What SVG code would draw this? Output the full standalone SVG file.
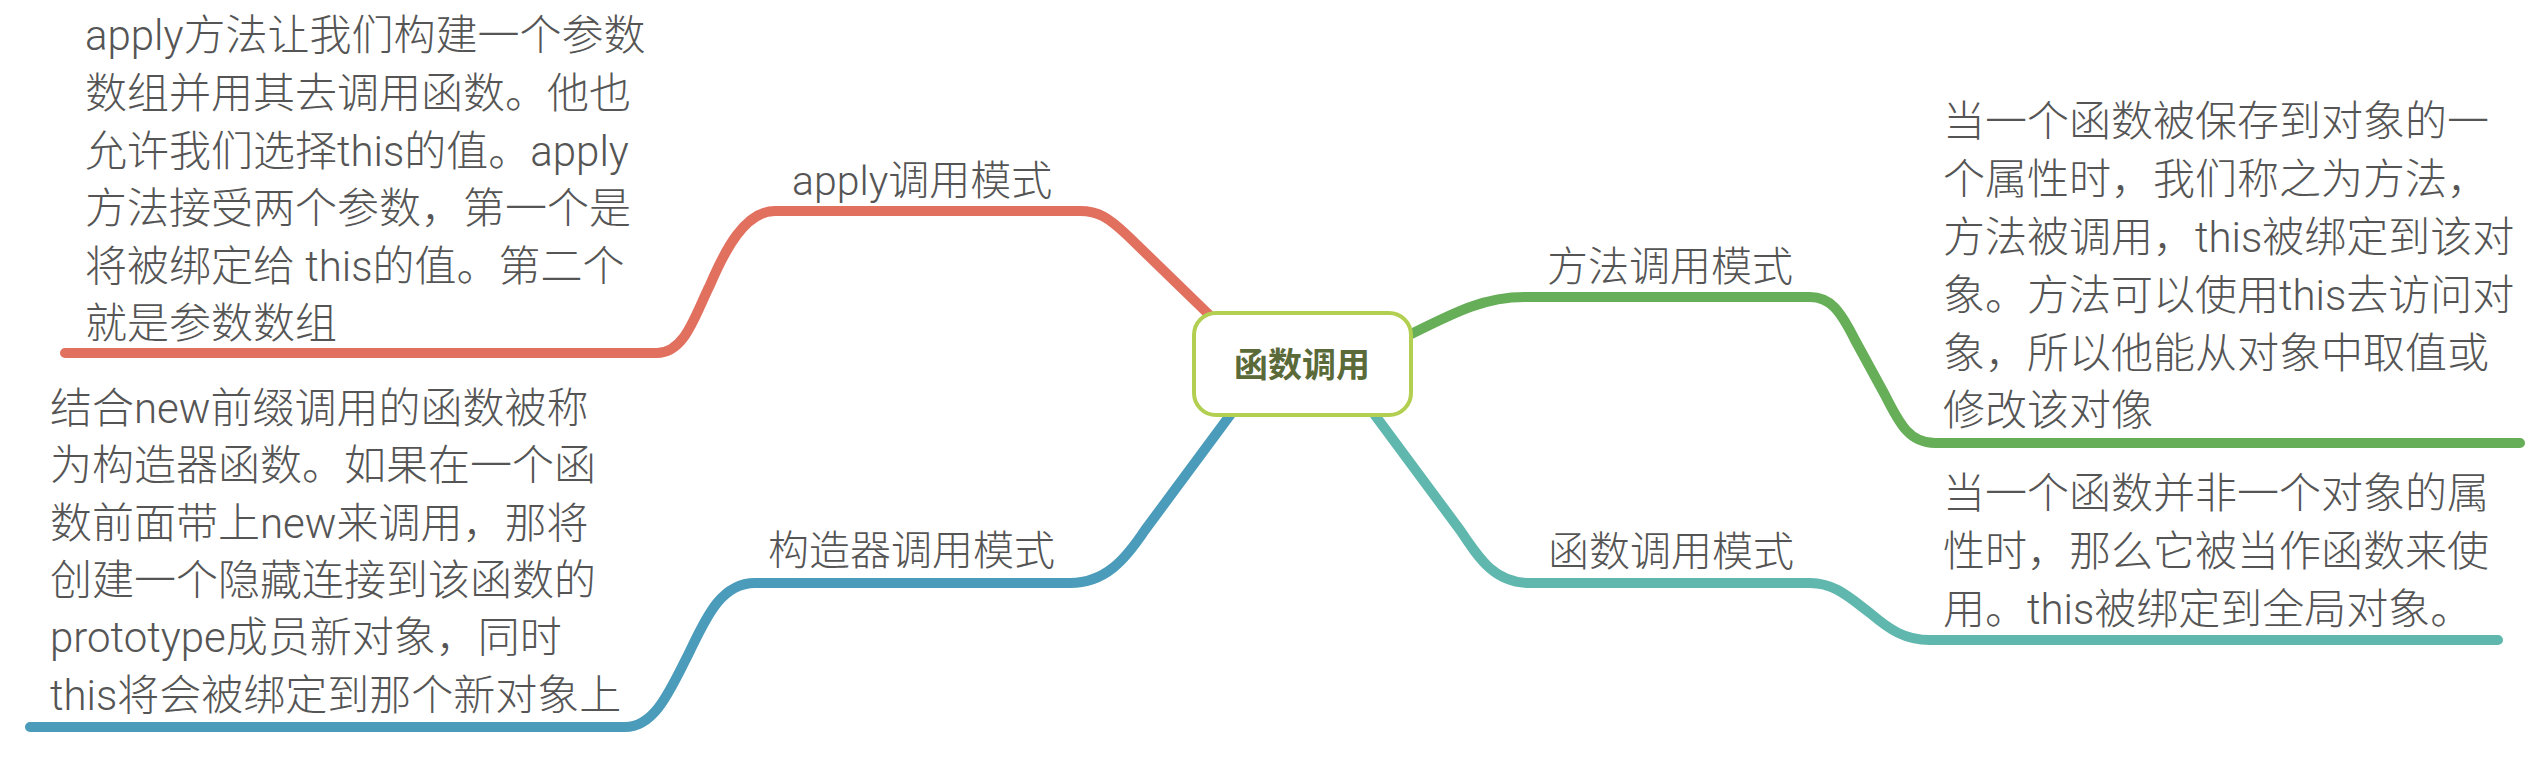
<svg xmlns="http://www.w3.org/2000/svg" width="2536" height="758" viewBox="0 0 2536 758">
<style>
.br{fill:none;stroke-width:10;stroke-linecap:round;stroke-linejoin:round}
.lbl{font-family:"Roboto","Noto Sans CJK SC",sans-serif;font-size:41px;font-weight:300;fill:#555555}
.desc{font-family:"Roboto","Noto Sans CJK SC",sans-serif;font-size:42px;font-weight:300;fill:#555555}
.root{font-family:"Noto Sans CJK SC","Noto Sans",sans-serif;font-size:34px;font-weight:bold;fill:#5a6a38}
</style>
<rect width="2536" height="758" fill="#ffffff"/>
<g id="connectors">
<path class="br" stroke="#e1705f" d="M1230 335 L1128 236 C1108 217 1098 211 1080 211 L775 211 C745 211 725 250 710 285 C695 315 685 353 657 353 L65 353"/>
<path class="br" stroke="#4b9bba" d="M1245 395 L1145 530 C1125 560 1105 583 1070 583 L755 583 C720 583 705 620 688 655 C670 690 655 727 625 727 L30 727"/>
<path class="br" stroke="#66ae57" d="M1395 342 C1450 315 1480 297 1525 297 L1810 297 C1830 297 1840 310 1855 340 L1885 395 C1900 425 1910 443 1935 443 L2520 443"/>
<path class="br" stroke="#5fb7ad" d="M1360 395 L1460 530 C1480 560 1495 583 1530 583 L1810 583 C1835 583 1850 598 1870 613 C1890 630 1905 640 1930 640 L2498 640"/>
</g>
<g id="root">
<rect x="1194" y="313" width="217" height="102" rx="22" ry="22" fill="#ffffff" stroke="#b2cf52" stroke-width="4"/>
<text class="root" x="1302" y="377" text-anchor="middle">函数调用</text>
</g>
<g id="apply">
<text class="lbl" x="792" y="195">apply调用模式</text>
</g>
<g id="apply-desc">
<text class="desc">
<tspan x="85" y="50">apply方法让我们构建一个参数</tspan>
<tspan x="85" y="108">数组并用其去调用函数。他也</tspan>
<tspan x="85" y="166">允许我们选择this的值。apply</tspan>
<tspan x="85" y="223">方法接受两个参数，第一个是</tspan>
<tspan x="85" y="281">将被绑定给 this的值。第二个</tspan>
<tspan x="85" y="338">就是参数数组</tspan>
</text>
</g>
<g id="constructor">
<text class="lbl" x="768" y="565">构造器调用模式</text>
</g>
<g id="constructor-desc">
<text class="desc">
<tspan x="50" y="423">结合new前缀调用的函数被称</tspan>
<tspan x="50" y="480">为构造器函数。如果在一个函</tspan>
<tspan x="50" y="538">数前面带上new来调用，那将</tspan>
<tspan x="50" y="595">创建一个隐藏连接到该函数的</tspan>
<tspan x="50" y="652">prototype成员新对象，同时</tspan>
<tspan x="50" y="710">this将会被绑定到那个新对象上</tspan>
</text>
</g>
<g id="method">
<text class="lbl" x="1547" y="281">方法调用模式</text>
</g>
<g id="method-desc">
<text class="desc">
<tspan x="1943" y="136">当一个函数被保存到对象的一</tspan>
<tspan x="1943" y="194">个属性时，我们称之为方法，</tspan>
<tspan x="1943" y="252">方法被调用，this被绑定到该对</tspan>
<tspan x="1943" y="310">象。方法可以使用this去访问对</tspan>
<tspan x="1943" y="368">象，所以他能从对象中取值或</tspan>
<tspan x="1943" y="425">修改该对像</tspan>
</text>
</g>
<g id="function">
<text class="lbl" x="1548" y="566">函数调用模式</text>
</g>
<g id="function-desc">
<text class="desc">
<tspan x="1943" y="508">当一个函数并非一个对象的属</tspan>
<tspan x="1943" y="566">性时，那么它被当作函数来使</tspan>
<tspan x="1943" y="624">用。this被绑定到全局对象。</tspan>
</text>
</g>
</svg>
